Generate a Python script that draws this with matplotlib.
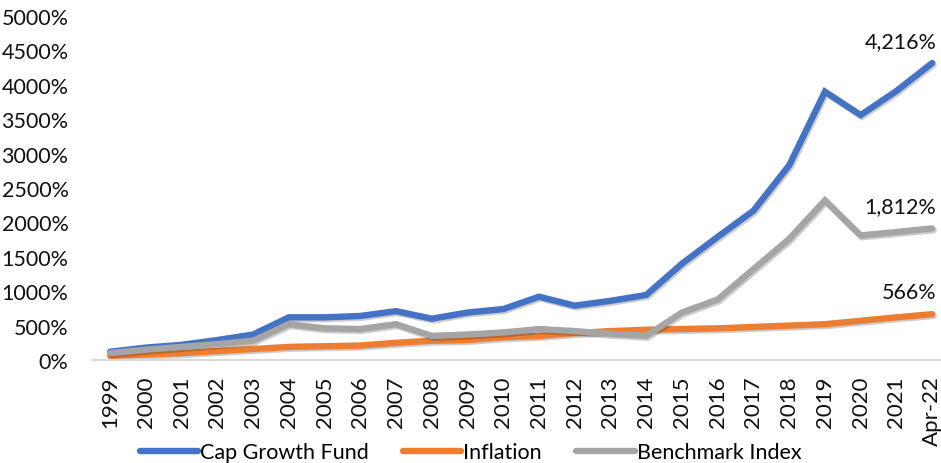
import matplotlib
matplotlib.use("Agg")
import matplotlib.pyplot as plt
import matplotlib.patheffects as pe

# categories and values (cumulative growth, %)
years = ["1999", "2000", "2001", "2002", "2003", "2004", "2005", "2006",
         "2007", "2008", "2009", "2010", "2011", "2012", "2013", "2014",
         "2015", "2016", "2017", "2018", "2019", "2020", "2021", "Apr-22"]

cap_growth = [120, 180, 220, 290, 370, 620, 620, 640, 710, 600, 690, 740,
              920, 790, 860, 945, 1400, 1790, 2170, 2830, 3900, 3560, 3910, 4316]
inflation = [60, 80, 100, 130, 160, 190, 200, 210, 250, 280, 290, 330,
             350, 390, 420, 440, 450, 460, 480, 500, 520, 570, 620, 666]
benchmark = [100, 150, 190, 230, 280, 520, 460, 450, 520, 350, 370, 400,
             450, 420, 380, 350, 690, 880, 1320, 1760, 2320, 1810, 1860, 1912]

end_labels = ["4,216%", "566%", "1,812%"]

series_names = ["Cap Growth Fund", "Inflation", "Benchmark Index"]
colors = ["#4472C4", "#ED7D31", "#A5A5A5"]

plt.rcParams['font.family'] = ['Lato', 'DejaVu Sans']

fig = plt.figure(figsize=(9.41, 4.64), dpi=100)
ax = fig.add_axes([0.098, 0.222, 0.9116, 0.7414])

x = list(range(len(years)))
shadow = [pe.SimpleLineShadow(offset=(1.0, -1.3), alpha=0.2, shadow_color='black'), pe.Normal()]
handles = []
for vals, name, col, lab in zip([cap_growth, inflation, benchmark], series_names, colors, end_labels):
    ax.plot(x, vals, color=col, lw=4.6, solid_capstyle='round',
            solid_joinstyle='miter', path_effects=shadow)
    h, = ax.plot([], [], color=col, lw=4.6, solid_capstyle='round', label=name)
    handles.append(h)
    ax.annotate(lab, (x[-1], vals[-1]), xytext=(3, 16), textcoords='offset points',
                ha='right', va='center', fontsize=15.5, color='#111111')

ax.set_xlim(-0.5, len(years) - 0.5)
ax.set_ylim(0, 5000)
ax.set_yticks(range(0, 5001, 500))
ax.set_yticklabels([f"{v}%" for v in range(0, 5001, 500)])
ax.set_xticks(x)
ax.set_xticklabels(years, rotation=90)

for s in ['top', 'right', 'left']:
    ax.spines[s].set_visible(False)
ax.spines['bottom'].set_color('#D9D9D9')
ax.spines['bottom'].set_linewidth(1.5)
ax.tick_params(axis='both', length=0, colors='#111111')
ax.tick_params(axis='y', pad=17, labelsize=15.5)
ax.tick_params(axis='x', pad=11, labelsize=16)

fig.legend(handles=handles, loc='lower center', ncol=3, frameon=False, fontsize=15.5,
           handlelength=2.7, handletextpad=0.1, columnspacing=1.6,
           bbox_to_anchor=(0.5, -0.04))

fig.savefig("out.png", dpi=100)
